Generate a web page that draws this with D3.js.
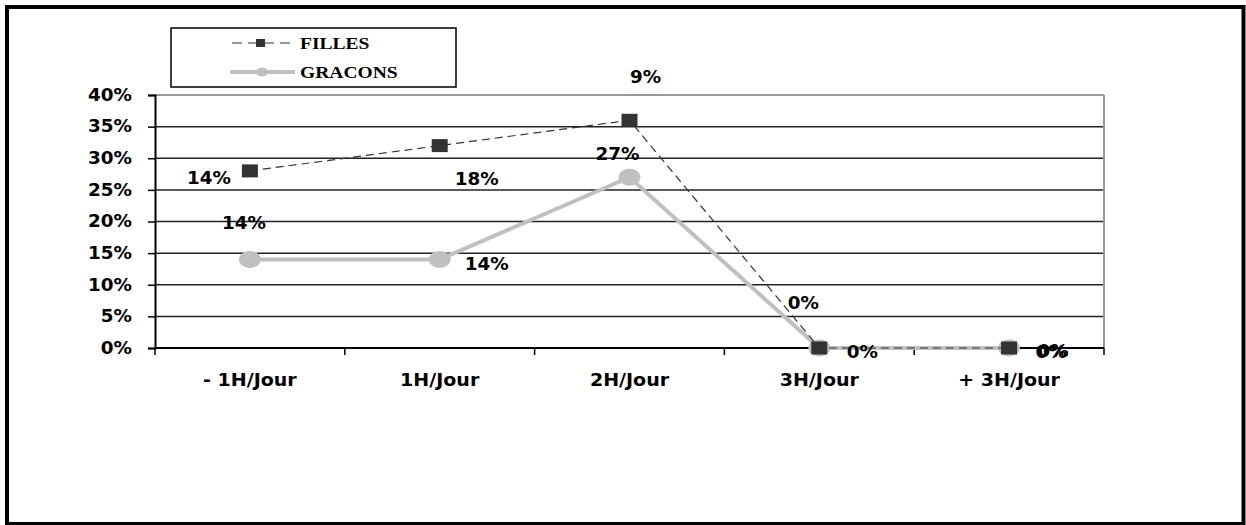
<!DOCTYPE html>
<html><head><meta charset="utf-8">
<script src="https://cdn.jsdelivr.net/npm/d3@7"></script>
<style>html,body{margin:0;padding:0;background:#fff;}svg{display:block;}</style>
</head><body>
<script>
const categories = ["- 1H/Jour", "1H/Jour", "2H/Jour", "3H/Jour", "+ 3H/Jour"];
const filles = [0.28, 0.32, 0.36, 0, 0];
const filleLabels = ["14%", "18%", "9%", "0%", "0%"];
const garcons = [0.14, 0.14, 0.27, 0, 0];
const garconLabels = ["14%", "14%", "27%", "0%", "0%"];
const yTicks = [0, 0.05, 0.10, 0.15, 0.20, 0.25, 0.30, 0.35, 0.40];
const seriesNames = ["FILLES", "GRACONS"];

// layout (label offsets relative to points)
const filleOffsets = [[-41, 7], [37, 34], [16, -43], [-16, -45], [42, 4]];
const garconOffsets = [[-6, -36], [47, 5], [-12, -23], [43, 4], [44, 3]];

const W = 1246, H = 525;
const L = 155, R = 1104, T = 95, B = 348;
const SX = 1.08;
const svg = d3.select("body").append("svg").attr("width", W).attr("height", H);

svg.append("rect").attr("x", 7).attr("y", 7).attr("width", 1236.5).attr("height", 517)
  .attr("fill", "none").attr("stroke", "#000").attr("stroke-width", 4);

const x = d3.scaleBand().domain(categories).range([L, R]);
const y = d3.scaleLinear().domain([0, 0.4]).range([B, T]);
const cx = c => x(c) + x.bandwidth() / 2;

function txt(g, xx, yy, s, opts) {
  const t = g.append("text")
    .attr("transform", `translate(${xx},${yy}) scale(${opts.sx || SX},1)`)
    .attr("text-anchor", opts.anchor || "middle")
    .attr("dominant-baseline", "central")
    .attr("font-family", opts.family || "'DejaVu Sans', sans-serif")
    .attr("font-weight", "bold")
    .attr("font-size", opts.size || 17)
    .attr("fill", "#000")
    .text(s);
  return t;
}

// gridlines
svg.append("g").selectAll("line").data(yTicks.filter(v => v > 0 && v < 0.4)).join("line")
  .attr("x1", L).attr("x2", R).attr("y1", d => y(d)).attr("y2", d => y(d))
  .attr("stroke", "#222").attr("stroke-width", 1.5);
// plot area border top/right
svg.append("line").attr("x1", L).attr("x2", R).attr("y1", y(0.4)).attr("y2", y(0.4))
  .attr("stroke", "#999").attr("stroke-width", 2);
svg.append("line").attr("x1", R).attr("x2", R).attr("y1", T).attr("y2", B)
  .attr("stroke", "#999").attr("stroke-width", 2);

// y axis
const yAxis = d3.axisLeft(y).tickValues(yTicks).tickFormat(d3.format(".0%")).tickSize(7).tickPadding(0);
const yg = svg.append("g").attr("transform", `translate(${L},0)`).call(yAxis);
yg.select(".domain").attr("stroke", "#000").attr("stroke-width", 2);
yg.selectAll(".tick line").attr("stroke", "#000").attr("stroke-width", 1.5);
yg.selectAll(".tick text").remove();
yTicks.forEach(v => txt(svg, 132, y(v), d3.format(".0%")(v), {anchor: "end"}));

// x axis
const xg = svg.append("g").attr("transform", `translate(0,${B})`);
xg.append("line").attr("x1", L).attr("x2", R).attr("stroke", "#000").attr("stroke-width", 2);
const bounds = categories.map(c => x(c)).concat([R]);
xg.selectAll("line.tk").data(bounds).join("line").attr("class", "tk")
  .attr("x1", d => d).attr("x2", d => d).attr("y1", 0).attr("y2", 7)
  .attr("stroke", "#000").attr("stroke-width", 1.5);
categories.forEach(c => txt(svg, cx(c), 380, c, {sx: 1.12}));

// GRACONS series
const line = d3.line().x((d, i) => cx(categories[i])).y(d => y(d));
svg.append("path").datum(garcons).attr("d", line).attr("fill", "none")
  .attr("stroke", "#c0c0c0").attr("stroke-width", 4);
svg.append("g").selectAll("ellipse").data(garcons).join("ellipse")
  .attr("cx", (d, i) => cx(categories[i])).attr("cy", d => y(d))
  .attr("rx", 11).attr("ry", 8.5).attr("fill", "#c0c0c0");

// FILLES series
svg.append("path").datum(filles).attr("d", line).attr("fill", "none")
  .attr("stroke", "#333").attr("stroke-width", 1.2).attr("stroke-dasharray", "8,5");
svg.append("g").selectAll("rect").data(filles).join("rect")
  .attr("x", (d, i) => cx(categories[i]) - 8).attr("y", d => y(d) - 6.5)
  .attr("width", 16).attr("height", 13).attr("fill", "#333");

// labels
filles.forEach((v, i) => txt(svg, cx(categories[i]) + filleOffsets[i][0], y(v) + filleOffsets[i][1], filleLabels[i], {}));
garcons.forEach((v, i) => txt(svg, cx(categories[i]) + garconOffsets[i][0], y(v) + garconOffsets[i][1], garconLabels[i], {}));

// legend
const lg = svg.append("g");
lg.append("rect").attr("x", 171).attr("y", 28).attr("width", 285).attr("height", 59)
  .attr("fill", "#fff").attr("stroke", "#000").attr("stroke-width", 1.5);
lg.append("line").attr("x1", 232).attr("x2", 294).attr("y1", 43).attr("y2", 43)
  .attr("stroke", "#333").attr("stroke-width", 1.2).attr("stroke-dasharray", "10,6");
lg.append("rect").attr("x", 256).attr("y", 39).attr("width", 9).attr("height", 8).attr("fill", "#333");
lg.append("line").attr("x1", 230).attr("x2", 295).attr("y1", 72).attr("y2", 72)
  .attr("stroke", "#c0c0c0").attr("stroke-width", 4);
lg.append("ellipse").attr("cx", 262).attr("cy", 72).attr("rx", 6).attr("ry", 4.5).attr("fill", "#c0c0c0");
txt(lg, 300, 43, seriesNames[0], {anchor: "start", family: "'Liberation Serif', serif", size: 17, sx: 1.15});
txt(lg, 300, 72, seriesNames[1], {anchor: "start", family: "'Liberation Serif', serif", size: 17, sx: 1.15});
</script>
</body></html>
